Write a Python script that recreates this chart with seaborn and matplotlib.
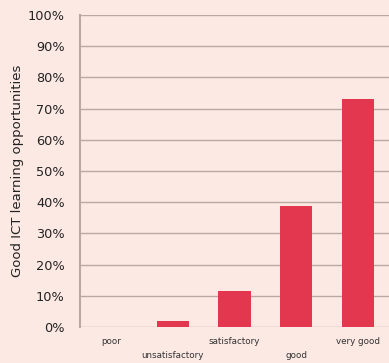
import matplotlib
matplotlib.use("Agg")
import matplotlib.pyplot as plt
import seaborn as sns
import pandas as pd
from matplotlib.ticker import PercentFormatter

categories = ["poor", "unsatisfactory", "satisfactory", "good", "very good"]
shares = [0.0, 1.8, 11.4, 38.8, 73.1]
y_ticks = list(range(0, 101, 10))

bg = "#fde9e3"
bar_color = "#e2374f"
grid_color = "#bba8a1"

sns.set_style("white")
plt.rcParams["font.family"] = ["DejaVu Sans"]

df = pd.DataFrame({"rating": categories, "share": shares})

fig = plt.figure(figsize=(3.89, 3.63), dpi=100, facecolor=bg)
ax = fig.add_axes([80 / 389, 36 / 363, 309 / 389, 312 / 363], facecolor=bg)

sns.barplot(data=df, x="rating", y="share", color=bar_color, width=0.52,
            saturation=1, linewidth=0, edgecolor="none", ax=ax, zorder=3)

ax.set_ylim(0, 100)
ax.set_xlim(-0.5, 4.5)
ax.set_yticks(y_ticks)
ax.yaxis.set_major_formatter(PercentFormatter(decimals=0))
ax.yaxis.grid(True, color=grid_color, linewidth=1.0, zorder=0)
ax.set_axisbelow(True)

for s in ["top", "right", "bottom"]:
    ax.spines[s].set_visible(False)
ax.spines["left"].set_color(grid_color)
ax.spines["left"].set_linewidth(1.5)

ax.tick_params(axis="y", direction="out", length=6, width=2, color="#111111",
               labelsize=9.3, pad=5, labelcolor="#222222")
ax.tick_params(axis="x", length=0, labelsize=6.3, pad=7, labelcolor="#333333")
ax.set_xticks(range(len(categories)))
ax.set_xticklabels([c if i % 2 == 0 else "\n" + c for i, c in enumerate(categories)],
                   linespacing=1.7)

ax.set_xlabel("")
ax.set_ylabel("Good ICT learning opportunities", fontsize=9.5, color="#222222")
ax.yaxis.set_label_coords(-0.18, 0.5)

fig.savefig("out.png", dpi=100, facecolor=bg)
